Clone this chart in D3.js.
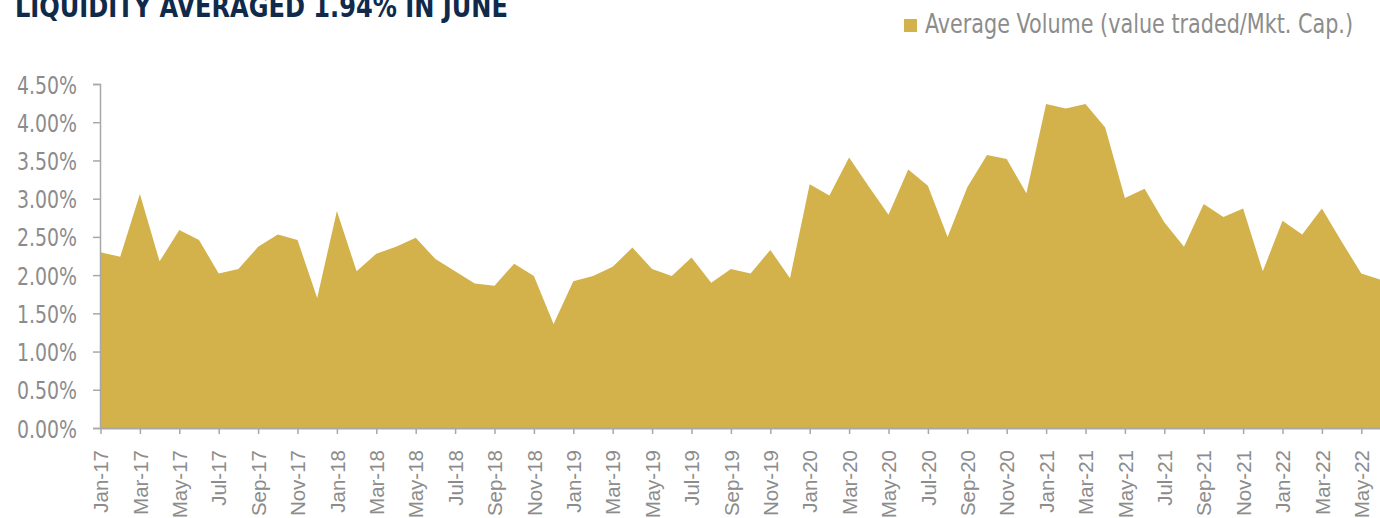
<!DOCTYPE html>
<html><head><meta charset="utf-8">
<script src="https://cdn.jsdelivr.net/npm/d3@7"></script>
<style>
html,body{margin:0;padding:0;background:#fff;overflow:hidden}
svg{display:block}
</style></head>
<body>
<svg id="chart" width="1380" height="518"></svg>
<script>
const title = "LIQUIDITY AVERAGED 1.94% IN JUNE";
const seriesName = "Average Volume (value traded/Mkt. Cap.)";
const months = [
 "Jan-17","Feb-17","Mar-17","Apr-17","May-17","Jun-17","Jul-17","Aug-17","Sep-17","Oct-17","Nov-17","Dec-17",
 "Jan-18","Feb-18","Mar-18","Apr-18","May-18","Jun-18","Jul-18","Aug-18","Sep-18","Oct-18","Nov-18","Dec-18",
 "Jan-19","Feb-19","Mar-19","Apr-19","May-19","Jun-19","Jul-19","Aug-19","Sep-19","Oct-19","Nov-19","Dec-19",
 "Jan-20","Feb-20","Mar-20","Apr-20","May-20","Jun-20","Jul-20","Aug-20","Sep-20","Oct-20","Nov-20","Dec-20",
 "Jan-21","Feb-21","Mar-21","Apr-21","May-21","Jun-21","Jul-21","Aug-21","Sep-21","Oct-21","Nov-21","Dec-21",
 "Jan-22","Feb-22","Mar-22","Apr-22","May-22","Jun-22"];
const values = [
 2.30,2.24,3.06,2.18,2.59,2.46,2.02,2.08,2.37,2.53,2.46,1.70,
 2.84,2.05,2.28,2.37,2.49,2.21,2.05,1.89,1.86,2.15,1.99,1.36,
 1.92,1.99,2.11,2.36,2.08,1.99,2.23,1.90,2.08,2.02,2.33,1.96,
 3.19,3.04,3.54,3.16,2.79,3.38,3.17,2.50,3.15,3.57,3.52,3.07,
 4.24,4.18,4.24,3.93,3.01,3.13,2.69,2.37,2.93,2.76,2.87,2.05,
 2.71,2.53,2.87,2.44,2.02,1.94];
const yTicks = [0,0.5,1,1.5,2,2.5,3,3.5,4,4.5];
const tickLabels = months.filter((m,i)=>i%2===0);

const svg = d3.select("#chart");
const narrow = "'Liberation Sans Narrow','DejaVu Sans Condensed','Arial Narrow',sans-serif";
const gray = "#8c8c8c", axisCol = "#a8a8a8", gold = "#D3B24B";

const x = d3.scalePoint().domain(months).range([100.5, 1381]);
const y = d3.scaleLinear().domain([0, 4.5]).range([428, 84]);

// area
const area = d3.area().x((d,i)=>x(months[i])).y0(y(0)).y1(d=>y(d));
svg.append("path").datum(values).attr("d", area).attr("fill", gold);

// y axis
const yAxis = svg.append("g").attr("transform","translate(100,0)")
  .call(d3.axisLeft(y).tickValues(yTicks).tickFormat(d=>d.toFixed(2)+"%").tickSize(7).tickPadding(16));
yAxis.select(".domain").attr("stroke", axisCol).attr("stroke-width",1.5);
yAxis.selectAll(".tick line").attr("stroke", axisCol).attr("stroke-width",1.5);
yAxis.selectAll(".tick text").attr("fill", gray).style("font-family", narrow).style("font-size","25px")
  .attr("dy","0.36em").attr("textLength",60).attr("lengthAdjust","spacingAndGlyphs");

// x axis
const xAxis = svg.append("g").attr("transform","translate(0,428)")
  .call(d3.axisBottom(x).tickValues(tickLabels).tickSize(6).tickSizeOuter(0));
xAxis.select(".domain").attr("stroke", axisCol).attr("stroke-width",2);
xAxis.selectAll(".tick line").attr("stroke", axisCol).attr("stroke-width",1.5);
xAxis.selectAll(".tick text").attr("fill", gray)
  .style("font-family","'Liberation Sans',Arial,sans-serif").style("font-size","20.5px")
  .attr("transform","rotate(-90)").attr("text-anchor","end")
  .attr("x",-22).attr("y",0).attr("dy","0.35em");

// title
svg.append("text").attr("x",15).attr("y",17).text(title)
  .attr("fill","#0f2a4a").style("font-family", narrow).style("font-weight","bold").style("font-size","31px")
  .attr("textLength",493).attr("lengthAdjust","spacingAndGlyphs");

// legend
svg.append("rect").attr("x",904).attr("y",19).attr("width",13).attr("height",13).attr("fill",gold);
svg.append("text").attr("x",925).attr("y",33).text(seriesName)
  .attr("fill", gray).style("font-family", narrow).style("font-size","27px")
  .attr("textLength",428).attr("lengthAdjust","spacingAndGlyphs");
</script>
</body></html>
